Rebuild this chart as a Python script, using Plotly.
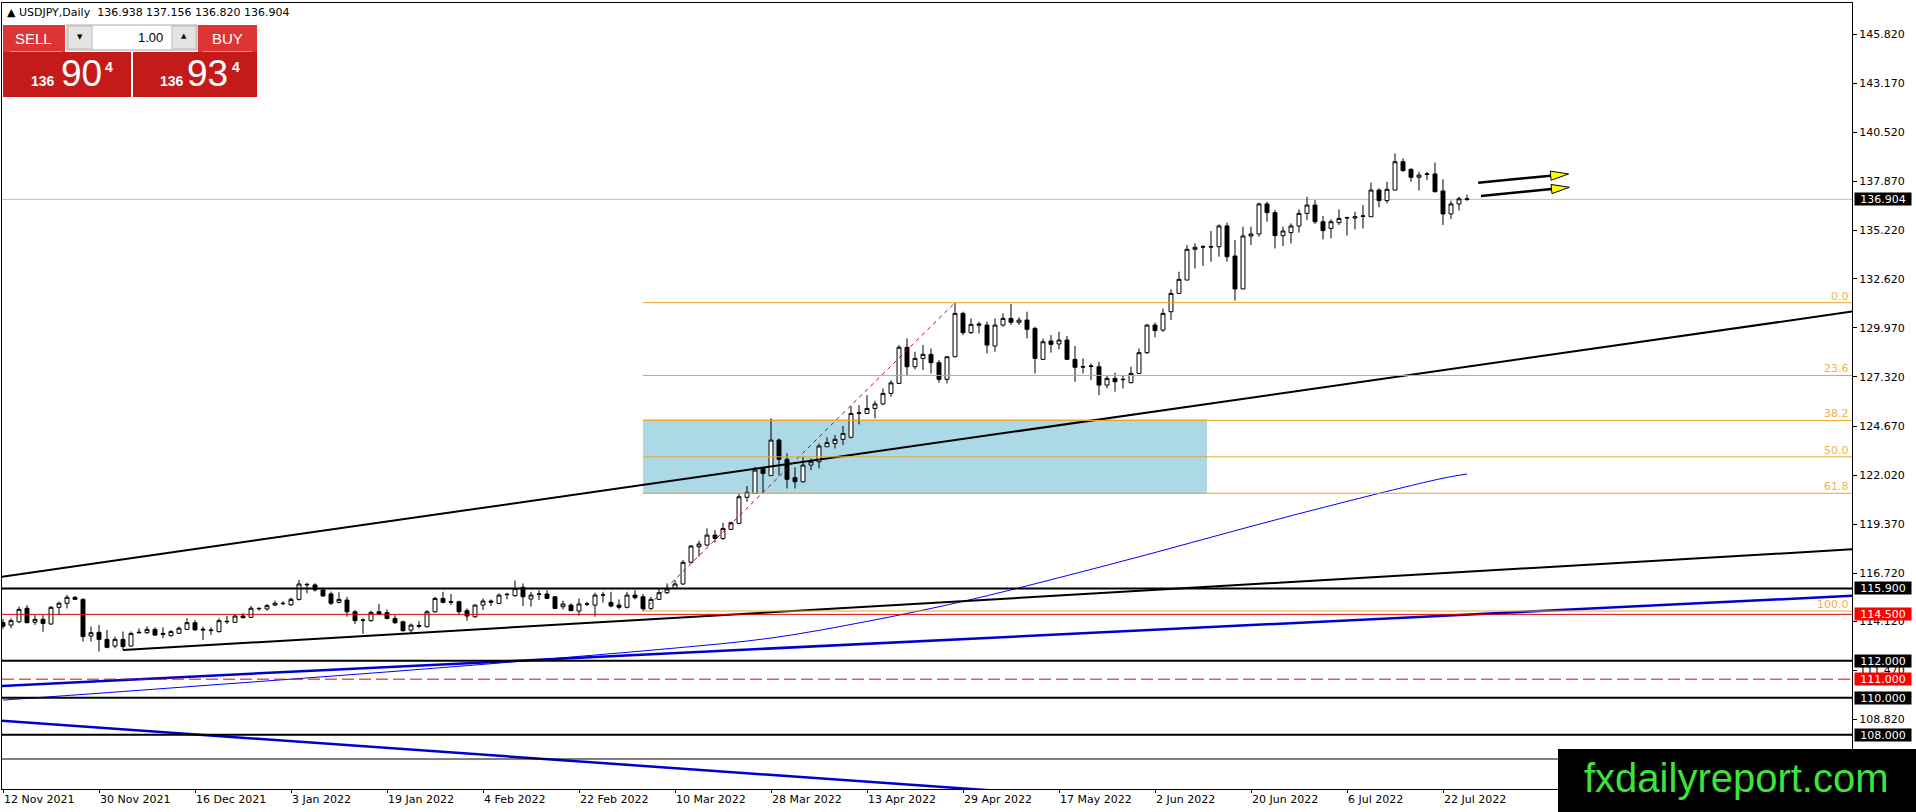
import math
import pandas as pd
import plotly.graph_objects as go

# USDJPY daily candles, first visible bar = 12 Nov 2021, last = 27 Jul 2022
first_day = "2021-11-12"

opens = [
    114.05, 113.92, 114.10, 114.83, 114.07, 114.23, 113.98, 114.88, 115.10, 115.42,
    115.31, 113.33, 113.53, 113.15, 112.79, 113.15, 112.79, 113.50, 113.51, 113.69,
    113.47, 113.35, 113.48, 113.69, 114.05, 113.70, 113.62, 113.57, 114.10, 114.07,
    114.41, 114.34, 114.80, 114.79, 115.00, 115.10, 115.02, 115.31, 116.12, 116.09,
    115.82, 115.60, 115.15, 115.27, 114.64, 114.20, 114.16, 114.64, 114.59, 114.28,
    114.10, 113.65, 113.85, 113.83, 114.64, 115.36, 115.15, 115.18, 114.70, 114.37,
    115.00, 115.22, 115.09, 115.56, 115.51, 115.96, 115.33, 115.58, 115.60, 115.45,
    114.91, 115.00, 114.68, 115.04, 115.00, 115.55, 115.15, 115.00, 114.88, 115.54,
    115.45, 114.82, 115.31, 115.67, 115.90, 116.14, 117.31, 118.15, 118.24, 118.78,
    118.60, 119.09, 119.41, 120.82, 121.03, 122.38, 121.99, 123.91, 122.87, 121.88,
    121.66, 122.56, 122.74, 123.55, 123.73, 123.95, 124.06, 125.35, 125.35, 125.62,
    125.86, 126.43, 126.97, 128.92, 127.87, 128.32, 128.54, 128.09, 127.19, 128.41,
    130.75, 129.71, 130.18, 130.12, 128.99, 130.12, 130.48, 130.27, 130.39, 129.94,
    128.27, 129.26, 129.10, 129.31, 128.27, 127.85, 127.89, 127.87, 126.88, 127.24,
    127.17, 127.01, 127.51, 128.63, 130.12, 129.85, 130.84, 131.83, 132.55, 134.21,
    134.33, 134.33, 134.35, 135.47, 133.85, 132.07, 134.93, 135.04, 136.66, 136.19,
    134.95, 135.11, 135.47, 136.15, 136.60, 135.70, 135.34, 135.65, 135.90, 135.90,
    135.99, 135.97, 137.41, 136.84, 137.41, 138.94, 138.53, 138.10, 138.25, 138.28,
    137.36, 136.12, 136.66, 136.938,
]
highs = [
    114.25, 114.29, 114.92, 115.00, 114.47, 114.47, 114.95, 115.19, 115.55, 115.49,
    115.37, 113.84, 113.93, 113.66, 113.30, 113.57, 113.57, 113.75, 113.85, 113.80,
    113.80, 113.66, 113.84, 114.29, 114.20, 113.84, 113.80, 114.29, 114.41, 114.47,
    114.56, 114.95, 114.88, 115.06, 115.24, 115.22, 115.40, 116.36, 116.21, 116.18,
    115.91, 115.73, 115.70, 115.45, 114.73, 114.28, 114.70, 115.06, 114.77, 114.46,
    114.16, 114.01, 114.14, 114.73, 115.45, 115.72, 115.60, 115.24, 114.82, 115.04,
    115.36, 115.31, 115.63, 115.67, 116.32, 116.17, 115.72, 115.81, 115.81, 115.49,
    115.24, 115.09, 115.36, 115.18, 115.67, 115.72, 115.72, 115.31, 115.72, 115.81,
    115.60, 115.45, 115.90, 116.17, 116.35, 117.43, 118.24, 118.48, 119.14, 119.05,
    119.45, 119.50, 121.03, 121.43, 122.47, 122.47, 125.08, 124.00, 123.19, 122.44,
    123.01, 122.92, 123.73, 124.06, 124.18, 124.67, 125.75, 125.80, 126.34, 126.04,
    126.70, 127.15, 129.04, 129.40, 128.68, 129.04, 128.86, 128.23, 128.45, 131.33,
    130.84, 130.48, 130.30, 130.30, 130.48, 130.75, 131.25, 130.54, 130.84, 130.03,
    129.40, 129.58, 129.76, 129.53, 128.99, 128.32, 128.05, 128.14, 127.42, 127.55,
    127.42, 127.87, 128.86, 130.18, 130.25, 131.00, 132.05, 133.00, 134.44, 134.53,
    134.44, 135.20, 135.56, 135.65, 134.71, 135.43, 135.43, 136.73, 136.78, 136.33,
    135.43, 135.61, 136.37, 137.05, 136.87, 136.01, 135.83, 136.37, 135.97, 136.24,
    136.60, 137.81, 137.50, 137.86, 139.39, 139.12, 138.58, 138.40, 138.38, 138.89,
    137.99, 136.84, 137.05, 137.156,
]
lows = [
    113.72, 113.75, 114.02, 114.02, 113.93, 113.56, 113.93, 114.47, 114.82, 115.27,
    113.03, 113.03, 112.49, 112.67, 112.67, 112.58, 112.76, 113.48, 113.45, 113.33,
    113.21, 113.30, 113.44, 113.66, 113.62, 113.12, 113.39, 113.51, 113.98, 114.05,
    114.29, 114.29, 114.70, 114.70, 114.95, 115.00, 114.95, 115.24, 115.64, 115.73,
    115.45, 115.00, 115.09, 114.37, 113.98, 113.44, 114.10, 114.46, 114.23, 113.98,
    113.56, 113.47, 113.74, 113.80, 114.59, 115.09, 115.00, 114.52, 114.16, 114.32,
    114.73, 114.95, 115.06, 115.31, 115.45, 114.95, 114.91, 115.27, 115.33, 114.79,
    114.77, 114.68, 114.43, 114.95, 114.37, 115.13, 114.88, 114.77, 114.82, 115.31,
    114.68, 114.73, 115.27, 115.60, 115.85, 116.08, 117.25, 117.61, 118.19, 118.37,
    118.51, 119.05, 119.38, 120.58, 121.00, 121.03, 121.99, 122.00, 121.30, 121.30,
    121.61, 122.29, 122.38, 123.55, 123.46, 123.64, 124.00, 124.76, 125.35, 125.08,
    125.80, 126.25, 126.97, 127.42, 127.73, 127.69, 127.51, 127.01, 126.97, 128.38,
    129.58, 129.64, 129.67, 128.59, 128.68, 130.03, 130.12, 130.12, 129.40, 127.51,
    128.23, 128.63, 128.81, 128.23, 127.06, 127.51, 127.15, 126.34, 126.70, 126.52,
    126.70, 126.97, 127.48, 128.56, 129.46, 129.75, 130.39, 131.83, 132.55, 133.18,
    133.31, 133.54, 133.81, 133.54, 131.44, 132.07, 134.44, 134.89, 135.70, 134.26,
    134.39, 134.53, 135.11, 135.79, 135.58, 134.75, 134.80, 135.52, 134.95, 135.29,
    135.34, 135.97, 136.48, 136.69, 137.41, 138.40, 137.86, 137.38, 137.95, 137.29,
    135.52, 135.85, 136.30, 136.820,
]
closes = [
    113.86, 114.16, 114.77, 114.05, 114.23, 114.01, 114.88, 115.10, 115.42, 115.31,
    113.30, 113.51, 113.15, 112.72, 113.15, 112.76, 113.47, 113.53, 113.69, 113.38,
    113.43, 113.57, 113.75, 114.05, 113.66, 113.66, 113.65, 114.16, 114.12, 114.41,
    114.32, 114.83, 114.82, 114.97, 115.10, 115.08, 115.31, 116.14, 116.10, 115.82,
    115.49, 115.10, 115.31, 114.64, 114.16, 114.18, 114.61, 114.52, 114.28, 114.05,
    113.62, 113.92, 113.90, 114.64, 115.36, 115.15, 115.18, 114.64, 114.41, 115.00,
    115.22, 115.16, 115.54, 115.58, 115.90, 115.45, 115.54, 115.60, 115.36, 114.82,
    115.06, 114.70, 115.06, 115.06, 115.54, 115.54, 114.95, 114.88, 115.54, 115.40,
    114.82, 115.31, 115.67, 115.87, 116.14, 117.31, 118.19, 118.30, 118.78, 118.60,
    119.14, 119.45, 120.85, 121.09, 122.29, 122.11, 123.91, 122.87, 121.79, 121.66,
    122.56, 122.74, 123.59, 123.77, 123.95, 124.27, 125.35, 125.38, 125.62, 125.86,
    126.43, 127.00, 128.92, 127.87, 128.32, 128.54, 128.09, 127.19, 128.41, 130.75,
    129.71, 130.16, 130.12, 129.04, 130.12, 130.48, 130.27, 130.39, 129.89, 128.32,
    129.22, 129.08, 129.31, 128.27, 127.84, 127.87, 127.91, 126.88, 127.24, 127.06,
    127.19, 127.51, 128.63, 130.12, 129.82, 130.75, 131.83, 132.59, 134.21, 134.32,
    134.35, 134.35, 135.47, 133.81, 132.07, 134.93, 135.04, 136.66, 136.19, 134.95,
    135.20, 135.47, 136.15, 136.60, 135.70, 135.22, 135.70, 135.88, 135.92, 135.97,
    136.01, 137.41, 136.84, 137.45, 138.94, 138.46, 138.10, 138.22, 138.28, 137.32,
    136.12, 136.66, 136.94, 136.904,
]

# moving average
ma_dates = ["2021-11-12", "2021-11-30", "2021-12-16", "2022-01-03", "2022-01-19",
            "2022-02-04", "2022-02-22", "2022-03-10", "2022-03-28", "2022-04-13",
            "2022-04-29", "2022-05-17", "2022-06-02", "2022-06-20", "2022-07-06",
            "2022-07-22", "2022-07-27"]
ma_values = [109.87, 110.24, 110.62, 111.00, 111.39, 111.80, 112.23, 112.68, 113.22,
             114.12, 115.20, 116.48, 117.84, 119.25, 120.60, 121.85, 122.08]

tick_dates = ["2021-11-12", "2021-11-30", "2021-12-16", "2022-01-03", "2022-01-19",
              "2022-02-04", "2022-02-22", "2022-03-10", "2022-03-28", "2022-04-13",
              "2022-04-29", "2022-05-17", "2022-06-02", "2022-06-20", "2022-07-06",
              "2022-07-22"]
tick_labels = ["12 Nov 2021", "30 Nov 2021", "16 Dec 2021", "3 Jan 2022", "19 Jan 2022",
               "4 Feb 2022", "22 Feb 2022", "10 Mar 2022", "28 Mar 2022", "13 Apr 2022",
               "29 Apr 2022", "17 May 2022", "2 Jun 2022", "20 Jun 2022", "6 Jul 2022",
               "22 Jul 2022"]

price_ticks = [145.82, 143.17, 140.52, 137.87, 135.22, 132.62, 129.97, 127.32,
               124.67, 122.02, 119.37, 116.72, 114.12, 111.47, 108.82]

# drawn objects: (date, price) anchors
upper_trend = ("2021-11-12", 116.54, "2022-07-27", 127.87)
lower_trend = ("2021-12-03", 112.575, "2022-07-27", 116.80)
blue_up = ("2021-11-12", 110.64, "2022-07-27", 114.49)
blue_down = ("2021-11-12", 108.75, "2022-04-01", 105.71)
fib_from = ("2022-03-04", 114.68)
fib_to = ("2022-04-28", 131.33)
fib_levels = [0.0, 23.6, 38.2, 50.0, 61.8, 100.0]
zone = ("2022-03-04", "2022-06-10", 121.00, 125.03)
black_levels = [115.90, 112.00, 110.00, 108.00]
red_level = 114.50
red_dashed_level = 111.00
thin_level = 106.69
last_price = 136.904
label_boxes = [(136.904, "black"), (115.90, "black"), (114.50, "red"), (112.00, "black"),
               (111.00, "red"), (110.00, "black"), (108.00, "black")]
# arrows in bar positions after the last candle: (start bar, start price, tip bar, tip price)
arrows = [(184.4, 137.81, 195.7, 138.28), (184.75, 137.09, 195.8, 137.56)]

# ---- geometry of the MT4 window ----
W, H = 1916, 812
PL, PR, PT, PB = 2, 1852, 3, 789
PX_BAR = 8.0
X_LEFT, X_RIGHT = -0.125, 231.125
Y_RANGE = [105.07, 147.51]
PX_YEN = (PB - PT) / (Y_RANGE[1] - Y_RANGE[0])

K0 = 5
slots = pd.bdate_range(pd.Timestamp(first_day) - pd.offsets.BDay(K0), periods=280)


def bar_of(d):
    return slots.get_loc(pd.Timestamp(d)) - K0


def bar_time(b):
    k = math.floor(b)
    f = b - k
    if f > 0.5:
        return slots[k + 1 + K0] + pd.Timedelta(hours=12 - 24 * (1 - f))
    return slots[k + K0] + pd.Timedelta(hours=12 + 24 * f)


def px(x):
    return (x - PL) / (PR - PL)


def py(y):
    return (PB - y) / (PB - PT)


def ray(anchor, color, width, both=True, dash=None):
    d0, p0, d1, p1 = anchor
    b0, b1 = bar_of(d0), bar_of(d1)
    k = (p1 - p0) / (b1 - b0)
    bl = X_LEFT if both else b0
    return go.Scatter(x=[bar_time(bl), bar_time(X_RIGHT)],
                      y=[p0 + k * (bl - b0), p0 + k * (X_RIGHT - b0)],
                      mode="lines", line=dict(color=color, width=width, dash=dash),
                      hoverinfo="skip")


fig = go.Figure()

fig.add_trace(go.Candlestick(
    x=[bar_time(i) for i in range(len(closes))],
    open=opens, high=highs, low=lows, close=closes,
    increasing=dict(fillcolor="white", line=dict(color="black", width=1)),
    decreasing=dict(fillcolor="black", line=dict(color="black", width=1)),
    whiskerwidth=0, hoverinfo="skip",
))

fig.add_trace(go.Scatter(x=[bar_time(bar_of(d)) for d in ma_dates], y=ma_values,
                         mode="lines", line=dict(color="#0000FF", width=1, shape="spline"),
                         hoverinfo="skip"))

fig.add_trace(ray(upper_trend, "black", 2))
fig.add_trace(ray(lower_trend, "black", 2, both=False))
fig.add_trace(ray(blue_up, "#0000CD", 2.5))
fig.add_trace(ray(blue_down, "#0000CD", 2.5))

# fibo diagonal
fb0, fb1 = bar_of(fib_from[0]), bar_of(fib_to[0])
fig.add_trace(go.Scatter(x=[bar_time(fb0), bar_time(fb1)], y=[fib_from[1], fib_to[1]],
                         mode="lines", line=dict(color="#B8002A", width=1, dash="4px,4px"),
                         hoverinfo="skip"))

# arrows: black shaft + yellow head
for b0, p0, b1, p1 in arrows:
    dx = (b1 - b0) * PX_BAR
    dy = (p1 - p0) * PX_YEN
    L = math.hypot(dx, dy)
    ux, uy = dx / L, dy / L
    nx, ny = -uy, ux
    head, half = 18.0, 4.6
    bx, by = -head * ux, -head * uy
    pts = [(0, 0), (bx + half * nx, by + half * ny), (bx - half * nx, by - half * ny), (0, 0)]
    fig.add_trace(go.Scatter(x=[bar_time(b0), bar_time(b1 + bx / PX_BAR)],
                             y=[p0, p1 + by / PX_YEN], mode="lines",
                             line=dict(color="black", width=2.5), hoverinfo="skip"))
    fig.add_trace(go.Scatter(x=[bar_time(b1 + a / PX_BAR) for a, _ in pts],
                             y=[p1 + c / PX_YEN for _, c in pts], mode="lines",
                             fill="toself", fillcolor="#FFFF00",
                             line=dict(color="black", width=1), hoverinfo="skip"))

shapes = []
# blue zone (background)
shapes.append(dict(type="rect", xref="x", yref="y", layer="below",
                   x0=bar_time(bar_of(zone[0])), x1=bar_time(bar_of(zone[1]) + 0.5),
                   y0=zone[2], y1=zone[3], fillcolor="#ADD8E6", line=dict(width=0)))
# current price line
shapes.append(dict(type="line", xref="paper", yref="y", x0=0, x1=1, y0=last_price,
                   y1=last_price, line=dict(color="#C0C0C0", width=1), layer="below"))
for lv in black_levels:
    shapes.append(dict(type="line", xref="paper", yref="y", x0=0, x1=1, y0=lv, y1=lv,
                       line=dict(color="black", width=2)))
shapes.append(dict(type="line", xref="paper", yref="y", x0=0, x1=1, y0=thin_level,
                   y1=thin_level, line=dict(color="black", width=1)))
shapes.append(dict(type="line", xref="paper", yref="y", x0=0, x1=1, y0=red_level,
                   y1=red_level, line=dict(color="#E00000", width=1)))
shapes.append(dict(type="line", xref="paper", yref="y", x0=0, x1=1, y0=red_dashed_level,
                   y1=red_dashed_level, line=dict(color="#E00000", width=1, dash="12px,5px")))

annotations = []
fib_span = fib_to[1] - fib_from[1]
for lv in fib_levels:
    yv = fib_to[1] - fib_span * lv / 100.0
    shapes.append(dict(type="line", xref="x", yref="y", x0=bar_time(fb0),
                       x1=bar_time(X_RIGHT), y0=yv, y1=yv,
                       line=dict(color="#E9A42C", width=1)))
    annotations.append(dict(xref="paper", yref="y", x=1, y=yv, xanchor="right",
                            yanchor="bottom", xshift=-1, yshift=-2, showarrow=False,
                            text=f"{lv:.1f}",
                            font=dict(family="DejaVu Sans", size=11, color="#F2B04A")))

for val, bg in label_boxes:
    annotations.append(dict(xref="paper", yref="y", x=1, y=val, xanchor="left",
                            yanchor="middle", xshift=2, showarrow=False, text=f"{val:.3f}",
                            bgcolor="#000000" if bg == "black" else "#FF0000",
                            width=56, height=12, borderpad=0, align="center",
                            font=dict(family="DejaVu Sans", size=11, color="white")))

# header line
annotations.append(dict(xref="paper", yref="paper", x=px(5), y=py(13), xanchor="left",
                        yanchor="middle", showarrow=False,
                        text="\u25b2 USDJPY,Daily\u00a0\u00a0136.938 137.156 136.820 136.904",
                        font=dict(family="DejaVu Sans", size=11, color="black")))


def rect(x0, y0, x1, y1, fill, line=None):
    shapes.append(dict(type="rect", xref="paper", yref="paper", x0=px(x0), x1=px(x1),
                       y0=py(y1), y1=py(y0), fillcolor=fill,
                       line=dict(width=1 if line else 0, color=line or fill)))


def label(x, y, text, size, color="white", family="Liberation Sans", anchor="center"):
    annotations.append(dict(xref="paper", yref="paper", x=px(x), y=py(y), xanchor=anchor,
                            yanchor="middle", showarrow=False, text=text,
                            font=dict(family=family, size=size, color=color)))


# one-click trading panel
rect(3, 25, 65, 52, "#DD3434")
rect(198, 25, 257, 52, "#DD3434")
rect(3, 52, 131, 97, "#C41A1A")
rect(133, 52, 257, 97, "#C41A1A")
rect(10, 51, 62, 52, "#F08A8A")
rect(203, 51, 252, 52, "#F08A8A")
rect(67, 25, 197, 50, "white", "#A8A8A8")
rect(68, 26, 92, 49, "#E4E4E4", "#B8B8B8")
rect(172, 26, 196, 49, "#E4E4E4", "#B8B8B8")
label(33, 39, "SELL", 15)
label(227, 39, "BUY", 15)
label(80, 37, "\u25bc", 7, "black", "DejaVu Sans")
label(184, 36, "\u25b2", 7, "black", "DejaVu Sans")
label(165, 37, "1.00", 13, "black", anchor="right")
label(43, 81, "<b>136</b>", 14)
label(81, 74, "90", 37)
label(109, 67, "<b>4</b>", 14)
label(172, 81, "<b>136</b>", 14)
label(207, 74, "93", 37)
label(236, 67, "<b>4</b>", 14)

# watermark
rect(1558, 749, 1916, 812, "#000000")
label(1736, 778, "fxdailyreport.com", 40, "#3DE33D")

fig.update_layout(
    width=W, height=H,
    margin=dict(l=PL, r=W - PR, t=PT, b=H - PB),
    paper_bgcolor="white", plot_bgcolor="white",
    showlegend=False, shapes=shapes, annotations=annotations,
    font=dict(family="DejaVu Sans", size=11, color="black"),
    xaxis=dict(
        type="date", range=[bar_time(X_LEFT), bar_time(X_RIGHT)],
        rangebreaks=[dict(bounds=["sat", "mon"])],
        rangeslider=dict(visible=False),
        tickmode="array", tickvals=[bar_time(bar_of(d)) for d in tick_dates],
        ticktext=tick_labels, ticks="outside", ticklen=3, tickcolor="black",
        ticklabelposition="outside right",
        showgrid=False, zeroline=False, showline=True, linecolor="black", linewidth=1,
        mirror=True, tickfont=dict(family="DejaVu Sans", size=11, color="black"),
    ),
    yaxis=dict(
        side="right", range=Y_RANGE, tickmode="array", tickvals=price_ticks,
        ticktext=[f"{v:.3f}" for v in price_ticks], ticks="outside", ticklen=4,
        tickcolor="black", showgrid=False, zeroline=False, showline=True,
        linecolor="black", linewidth=1, mirror=True,
        tickfont=dict(family="DejaVu Sans", size=11, color="black"),
    ),
)

fig.write_html("out.html", config={"displayModeBar": False},
               post_script="document.body.style.margin='0';document.body.style.overflow='hidden';")
